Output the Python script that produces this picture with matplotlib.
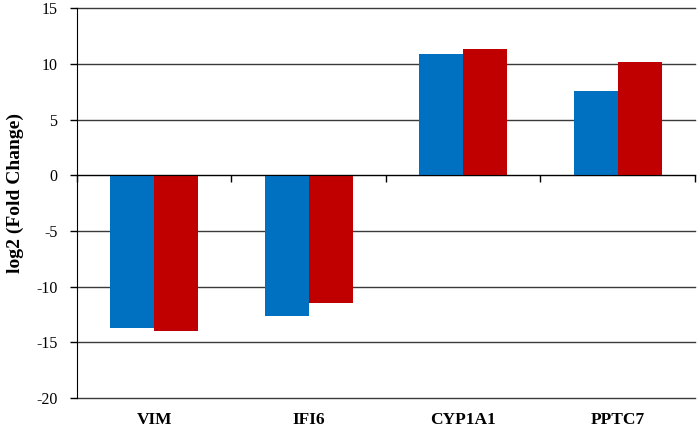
import matplotlib
matplotlib.use("Agg")
import matplotlib.pyplot as plt
import matplotlib.transforms as mtransforms
import numpy as np

categories = ["VIM", "IFI6", "CYP1A1", "PPTC7"]
series_blue = [-13.75, -12.6, 10.9, 7.55]
series_red = [-13.95, -11.45, 11.37, 10.15]
yticks = [-20, -15, -10, -5, 0, 5, 10, 15]

plt.rcParams['font.family'] = ['Liberation Serif', 'DejaVu Serif']

fig = plt.figure(figsize=(6.99, 4.28), dpi=100)
ax = fig.add_axes([0.110, 0.070, 0.884, 0.911])

x = np.arange(len(categories))
w = 0.285
ax.bar(x - w/2, series_blue, width=w, color='#0070C0', zorder=3)
ax.bar(x + w/2, series_red, width=w, color='#C00000', zorder=3)

ax.set_xlim(-0.5, len(categories) - 0.5)
ax.set_ylim(-20, 15)
ax.set_yticks(yticks)
ax.set_yticklabels([str(t) for t in yticks], fontsize=11.5)
ax.tick_params(axis='y', direction='out', length=5, width=1, color='black', pad=9)

for t in yticks:
    ax.axhline(t, color='#3a3a3a', linewidth=1.0, zorder=1, clip_on=False)

for s in ['top', 'right']:
    ax.spines[s].set_visible(False)
ax.spines['left'].set_color('black')
ax.spines['bottom'].set_position(('data', 0))
ax.spines['bottom'].set_color('black')
ax.spines['bottom'].set_zorder(4)

ax.set_xticks([])
ax.set_xticks(np.arange(len(categories) + 1) - 0.5, minor=True)
ax.tick_params(axis='x', which='minor', direction='out', length=5, width=1, color='black')
ax.tick_params(axis='x', which='major', length=0)

trans = mtransforms.blended_transform_factory(ax.transData, ax.transAxes)
for xi, c in zip(x, categories):
    ax.annotate(c, xy=(xi, 0), xycoords=trans, xytext=(0, -18.7),
                textcoords='offset points', ha='center', va='baseline',
                fontsize=12.5, fontweight='bold')

ax.set_ylabel("log2 (Fold Change)", fontsize=14, fontweight='bold')
ax.yaxis.set_label_coords(-0.086, 0.526)

fig.savefig("out.png", dpi=100)
